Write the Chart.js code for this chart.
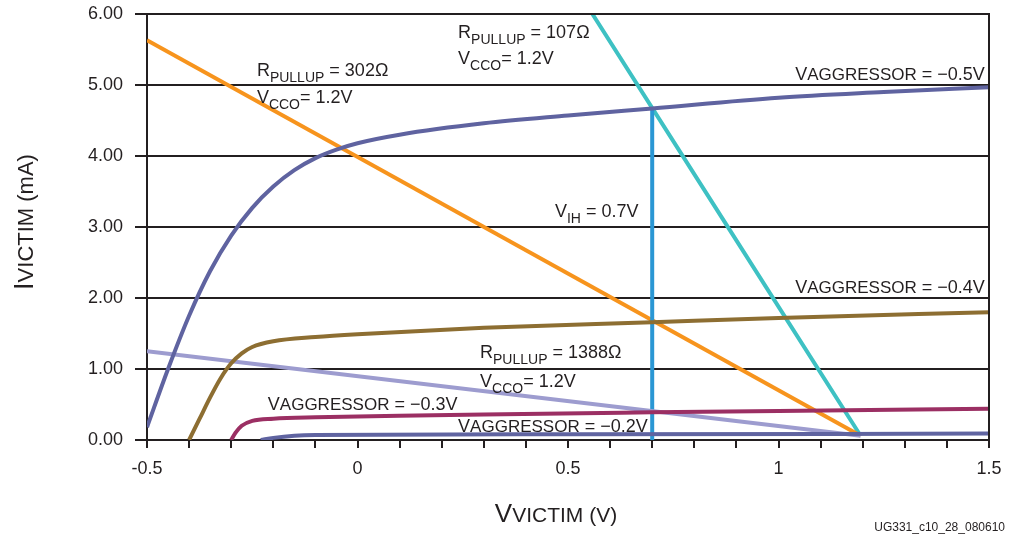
<!DOCTYPE html>
<html>
<head>
<meta charset="utf-8">
<script src="https://cdn.jsdelivr.net/npm/chart.js@4/dist/chart.umd.min.js"></script>
<style>
  html, body { margin: 0; padding: 0; background: #fff; }
  #wrap { width: 1011px; height: 537px; }
</style>
</head>
<body>
<div id="wrap"><canvas id="ivChart" width="1011" height="537"></canvas></div>
<script>
// curves: [V_VICTIM (V), I_VICTIM (mA)]
const aggr05 = [[-0.5,0.18],[-0.45,1.0],[-0.4,1.75],[-0.35,2.38],[-0.3,2.88],[-0.25,3.27],[-0.2,3.57],
  [-0.15,3.8],[-0.1,3.97],[-0.05,4.09],[0,4.18],[0.1,4.3],[0.3,4.46],[0.5,4.57],[0.7,4.67],[1.0,4.82],[1.25,4.9],[1.5,4.97]];
const aggr04 = [[-0.4,0],[-0.375,0.3],[-0.35,0.6],[-0.325,0.87],[-0.3,1.08],[-0.275,1.22],[-0.25,1.31],
  [-0.2,1.39],[-0.1,1.45],[0,1.49],[0.3,1.58],[0.7,1.66],[1.0,1.72],[1.5,1.8]];
const aggr03 = [[-0.3,0],[-0.29,0.1],[-0.275,0.2],[-0.25,0.27],[-0.2,0.3],[-0.1,0.32],[0,0.33],[0.3,0.36],
  [0.7,0.39],[1.0,0.41],[1.5,0.44]];
const aggr02 = [[-0.23,0],[-0.2,0.03],[-0.15,0.06],[-0.1,0.07],[0.5,0.08],[1.5,0.09]];
const pullup302 = [[-0.5,5.63],[1.195,0.06]];
const pullup107 = [[0.558,6],[1.195,0.06]];
const pullup1388 = [[-0.5,1.25],[1.195,0.06]];
const vihLine = [[0.7,0],[0.7,4.67]];

const xTickLabels = ["-0.5", "0", "0.5", "1", "1.5"];
const yTickLabels = ["0.00", "1.00", "2.00", "3.00", "4.00", "5.00", "6.00"];

// annotation text, anchored in data coordinates
const notes = [
  { x: -0.239, y: 5.13, align: "left", parts: [["R", 0], ["PULLUP", 1], [" = 302\u03A9", 0]] },
  { x: -0.239, y: 4.75, align: "left", parts: [["V", 0], ["CCO", 1], ["= 1.2V", 0]] },
  { x: 0.239, y: 5.66, align: "left", parts: [["R", 0], ["PULLUP", 1], [" = 107\u03A9", 0]] },
  { x: 0.239, y: 5.30, align: "left", parts: [["V", 0], ["CCO", 1], ["= 1.2V", 0]] },
  { x: 1.49, y: 5.07, align: "right", parts: [["V", 0], ["AGGRESSOR", 2], [" = \u22120.5V", 0]] },
  { x: 0.469, y: 3.14, align: "left", parts: [["V", 0], ["IH", 1], [" = 0.7V", 0]] },
  { x: 1.49, y: 2.07, align: "right", parts: [["V", 0], ["AGGRESSOR", 2], [" = \u22120.4V", 0]] },
  { x: 0.291, y: 1.15, align: "left", parts: [["R", 0], ["PULLUP", 1], [" = 1388\u03A9", 0]] },
  { x: 0.291, y: 0.74, align: "left", parts: [["V", 0], ["CCO", 1], ["= 1.2V", 0]] },
  { x: -0.213, y: 0.42, align: "left", parts: [["V", 0], ["AGGRESSOR", 2], [" = \u22120.3V", 0]] },
  { x: 0.239, y: 0.11, align: "left", parts: [["V", 0], ["AGGRESSOR", 2], [" = \u22120.2V", 0]] }
];

const FONT = "'Liberation Sans', Arial, sans-serif";
const INK = "#231f20";

function toPts(arr) {
  return arr.map(p => ({ x: p[0], y: p[1] }));
}

// part kinds: 0 normal, 1 subscript, 2 smaller on baseline
function drawRich(ctx, parts, x, y, align, big, small) {
  const styles = [
    { size: big, dy: 0 },
    { size: Math.round(big * 0.78), dy: 6 },
    { size: small, dy: 0 }
  ];
  let total = 0;
  parts.forEach(([t, k]) => {
    ctx.font = styles[k].size + "px " + FONT;
    total += ctx.measureText(t).width;
  });
  let cx = align === "right" ? x - total : align === "center" ? x - total / 2 : x;
  ctx.textAlign = "left";
  parts.forEach(([t, k]) => {
    ctx.font = styles[k].size + "px " + FONT;
    ctx.fillText(t, cx, y + styles[k].dy);
    cx += ctx.measureText(t).width;
  });
}

const decorPlugin = {
  id: "decor",
  afterDraw(chart) {
    const ctx = chart.ctx;
    const a = chart.chartArea;
    const sx = chart.scales.x, sy = chart.scales.y;
    ctx.save();
    // top and right frame
    ctx.strokeStyle = INK;
    ctx.lineWidth = 2;
    ctx.beginPath();
    ctx.moveTo(a.left, a.top);
    ctx.lineTo(a.right, a.top);
    ctx.lineTo(a.right, a.bottom);
    ctx.stroke();

    ctx.fillStyle = INK;
    ctx.textBaseline = "alphabetic";
    notes.forEach(n => {
      drawRich(ctx, n.parts, sx.getPixelForValue(n.x), sy.getPixelForValue(n.y), n.align, 18, 17);
    });

    // axis titles
    drawRich(ctx, [["V", 0], ["VICTIM (V)", 2]], 556, 522, "center", 26, 21);
    ctx.save();
    ctx.translate(33, 222);
    ctx.rotate(-Math.PI / 2);
    drawRich(ctx, [["I", 0], ["VICTIM (mA)", 2]], 0, 0, "center", 27, 22);
    ctx.restore();

    ctx.font = "12px " + FONT;
    ctx.textAlign = "right";
    ctx.fillText("UG331_c10_28_080610", 1005, 531);
    ctx.restore();
  }
};

function line(data, color, width) {
  return {
    data: toPts(data),
    showLine: true,
    borderColor: color,
    borderWidth: width,
    pointRadius: 0,
    fill: false,
    cubicInterpolationMode: "monotone"
  };
}

new Chart(document.getElementById("ivChart"), {
  type: "scatter",
  data: {
    datasets: [
      line(aggr02, "#5f63a0", 4),
      line(aggr03, "#9b2f63", 4),
      line(aggr04, "#8d6e32", 4),
      line(aggr05, "#5f63a0", 4),
      line(pullup1388, "#9d9ccf", 4),
      line(vihLine, "#2a97d4", 4),
      line(pullup302, "#f7941d", 4),
      line(pullup107, "#3ec1c3", 4)
    ]
  },
  options: {
    responsive: false,
    animation: false,
    layout: { padding: { left: 0, top: 14, right: 22, bottom: 0 } },
    plugins: { legend: { display: false }, tooltip: { enabled: false } },
    scales: {
      x: {
        type: "linear",
        min: -0.5,
        max: 1.5,
        afterFit: s => { s.height = 97; s.paddingLeft = 0; s.paddingRight = 0; },
        border: { display: true, color: INK, width: 2 },
        grid: { drawOnChartArea: false, drawTicks: true, tickLength: 8, color: INK, lineWidth: 2 },
        ticks: {
          stepSize: 0.1,
          autoSkip: false,
          maxRotation: 0,
          padding: 10,
          color: INK,
          font: { family: FONT, size: 18 },
          callback: v => {
            const r = Math.round(v * 10);
            return r % 5 === 0 ? xTickLabels[(r + 5) / 5] : "";
          }
        }
      },
      y: {
        type: "linear",
        min: 0,
        max: 6,
        afterFit: s => { s.width = 147; s.paddingTop = 0; s.paddingBottom = 0; },
        border: { display: true, color: INK, width: 2 },
        grid: { drawOnChartArea: true, drawTicks: true, tickLength: 12, color: INK, lineWidth: 2 },
        ticks: {
          stepSize: 1,
          padding: 12,
          color: INK,
          font: { family: FONT, size: 18 },
          callback: v => yTickLabels[Math.round(v)]
        }
      }
    }
  },
  plugins: [decorPlugin]
});
</script>
</body>
</html>
